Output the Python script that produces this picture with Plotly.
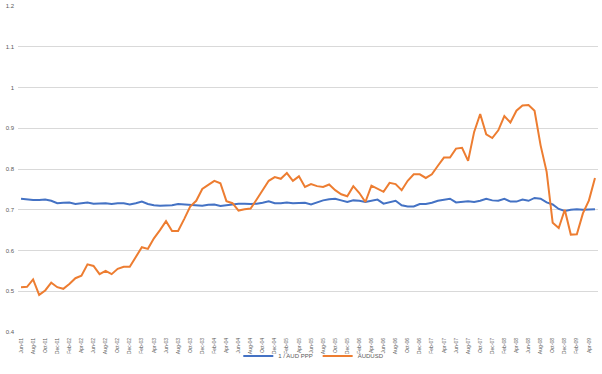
import plotly.graph_objects as go

mon_names = ["Jan", "Feb", "Mar", "Apr", "May", "Jun", "Jul", "Aug", "Sep", "Oct", "Nov", "Dec"]
months = []
for k in range(96):
    m = (5 + k) % 12
    y = 1 + (5 + k) // 12
    months.append(f"{mon_names[m]}-{y:02d}")

aud_ppp = [0.727, 0.725, 0.724, 0.724, 0.725, 0.722, 0.716, 0.717, 0.718, 0.714,
           0.716, 0.718, 0.715, 0.715, 0.716, 0.714, 0.716, 0.716, 0.713, 0.716,
           0.720, 0.714, 0.711, 0.710, 0.710, 0.711, 0.714, 0.713, 0.712, 0.711,
           0.710, 0.712, 0.713, 0.709, 0.711, 0.713, 0.715, 0.715, 0.714, 0.715,
           0.717, 0.721, 0.716, 0.716, 0.718, 0.716, 0.717, 0.717, 0.713, 0.718,
           0.723, 0.726, 0.727, 0.723, 0.719, 0.723, 0.722, 0.719, 0.722, 0.725,
           0.715, 0.718, 0.722, 0.711, 0.708, 0.708, 0.714, 0.714, 0.717, 0.722,
           0.725, 0.727, 0.718, 0.720, 0.721, 0.719, 0.722, 0.727, 0.723, 0.722,
           0.727, 0.720, 0.720, 0.725, 0.722, 0.729, 0.727, 0.718, 0.713, 0.702,
           0.697, 0.700, 0.701, 0.700, 0.701, 0.701]

audusd = [0.510, 0.511, 0.529, 0.491, 0.502, 0.521, 0.510, 0.506, 0.518, 0.532,
          0.538, 0.566, 0.562, 0.542, 0.550, 0.542, 0.555, 0.560, 0.560, 0.585,
          0.608, 0.604, 0.630, 0.650, 0.672, 0.648, 0.648, 0.677, 0.708, 0.722,
          0.751, 0.761, 0.771, 0.765, 0.721, 0.716, 0.698, 0.701, 0.703, 0.725,
          0.748, 0.771, 0.780, 0.776, 0.790, 0.771, 0.782, 0.756, 0.763, 0.758,
          0.756, 0.762, 0.748, 0.738, 0.733, 0.758, 0.741, 0.719, 0.759, 0.752,
          0.744, 0.766, 0.763, 0.748, 0.771, 0.787, 0.787, 0.778, 0.787, 0.808,
          0.828, 0.828, 0.850, 0.852, 0.820, 0.891, 0.935, 0.885, 0.876, 0.895,
          0.930, 0.914, 0.943, 0.956, 0.957, 0.943, 0.858, 0.793, 0.668, 0.655,
          0.700, 0.639, 0.640, 0.691, 0.723, 0.778]

y_ticks = [0.4, 0.5, 0.6, 0.7, 0.8, 0.9, 1.0, 1.1, 1.2]
y_tick_text = ["0.4", "0.5", "0.6", "0.7", "0.8", "0.9", "1", "1.1", "1.2"]

fig = go.Figure()
fig.add_trace(go.Scatter(x=months, y=aud_ppp, mode="lines", name="1 / AUD PPP",
                         line=dict(color="#4472C4", width=2)))
fig.add_trace(go.Scatter(x=months, y=audusd, mode="lines", name="AUDUSD",
                         line=dict(color="#ED7D31", width=2)))

fig.update_layout(
    width=602, height=374,
    margin=dict(l=18, r=4, t=6, b=42),
    paper_bgcolor="white", plot_bgcolor="white",
    font=dict(family="Liberation Sans, Arial, sans-serif", size=6, color="#595959"),
    showlegend=True,
    legend=dict(orientation="h", x=0.51, xanchor="center", y=-0.0736, yanchor="middle",
                font=dict(size=6, color="#595959"), itemwidth=30,
                bgcolor="rgba(0,0,0,0)"),
)
fig.update_xaxes(type="category", range=[-0.5, 95.5], automargin=False,
                 tickmode="array", tickvals=months[::2], ticktext=months[::2],
                 tickangle=-90, showgrid=False, showline=False, ticks="",
                 tickfont=dict(size=5, color="#595959"), ticklabelstandoff=4)
fig.update_yaxes(range=[0.4, 1.2], tickmode="array", tickvals=y_ticks, ticktext=y_tick_text,
                 automargin=False,
                 showgrid=True, gridcolor="#D9D9D9", gridwidth=1, zeroline=False,
                 showline=False, ticks="", tickfont=dict(size=6, color="#595959"),
                 ticklabelstandoff=3)

fig.write_html("out.html", config={"displayModeBar": False},
               post_script="document.body.style.margin='0';")
